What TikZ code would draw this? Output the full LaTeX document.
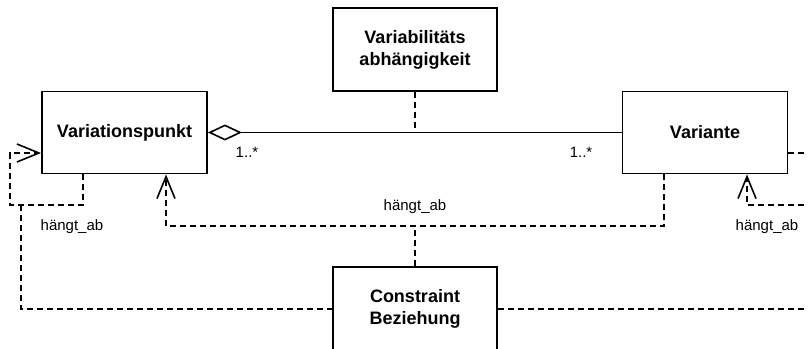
\documentclass[tikz,border=0pt]{standalone}
\usepackage{fontspec}
\setmainfont{Liberation Sans}
\usetikzlibrary{arrows.meta}
\begin{document}
\begin{tikzpicture}[x=1pt,y=-1pt,
  cls/.style={draw, line width=1.9pt, minimum width=165pt, minimum height=82pt, inner sep=0pt, align=center, font=\fontsize{18}{22}\selectfont\bfseries},
  dep/.style={line width=1.5pt, dash pattern=on 6pt off 4pt},
  assoc/.style={line width=1.8pt},
  lbl/.style={font=\fontsize{15}{18}\selectfont, inner sep=0pt},
  deparrow/.style={-{Straight Barb[length=22pt,width=18pt,line width=1.6pt]}}
]
\useasboundingbox (0,0) rectangle (808,348);
\clip (0,0) rectangle (808,348);

\node[cls] (vp) at (124.5,132.5) {Variationspunkt};
\node[cls] (va) at (705,132.5) {Variante};
\node[cls, minimum width=164pt, minimum height=83pt] (vb) at (415,49.5) {Variabilitäts\\abhängigkeit};
\node[cls, minimum width=164pt, minimum height=84pt] (cb) at (415,309) {Constraint\\Beziehung};

% association
\draw[assoc, {Diamond[open,length=34pt,width=16pt,line width=1.6pt]}-] (vp.east) -- (va.west);
\coordinate (am) at (vb.south |- vp.east);
\draw[dep] (vb.south) -- (am);

% middle dependency
\coordinate (mr) at (664,226);
\coordinate (ml) at (166,226);
\draw[dep,deparrow] (va.south -| mr) -- (mr) -- (ml) -- (vp.south -| ml);
\draw[dep] (cb.north) -- (cb.north |- mr);

% left self dependency
\coordinate (l1) at (83,205);
\coordinate (l2) at (10,205);
\coordinate (l3) at (10,153);
\draw[dep,deparrow] (vp.south -| l1) -- (l1) -- (l2) -- (l3) -- (vp.west |- l3);
\coordinate (l4) at (21,205);
\draw[dep] (l4) -- (l4 |- cb.west) -- (cb.west);

% right self dependency
\coordinate (r1) at (830,153);
\coordinate (r2) at (830,205);
\coordinate (r3) at (747,205);
\draw[dep,deparrow] (va.east |- r1) -- (r1) -- (r2) -- (r3) -- (va.south -| r3);
\coordinate (r4) at (820,205);
\draw[dep] (cb.east) -- (cb.east -| r4) -- (r4);

% labels
\node[lbl] (h1) at (72,227) {hängt\_ab};
\node[lbl] (h2) at (415,207) {hängt\_ab};
\node[lbl] (h3) at (767,227) {hängt\_ab};
\node[lbl] (m1) at (247,152) {1..*};
\node[lbl] (m2) at (581,152) {1..*};
\end{tikzpicture}
\end{document}
